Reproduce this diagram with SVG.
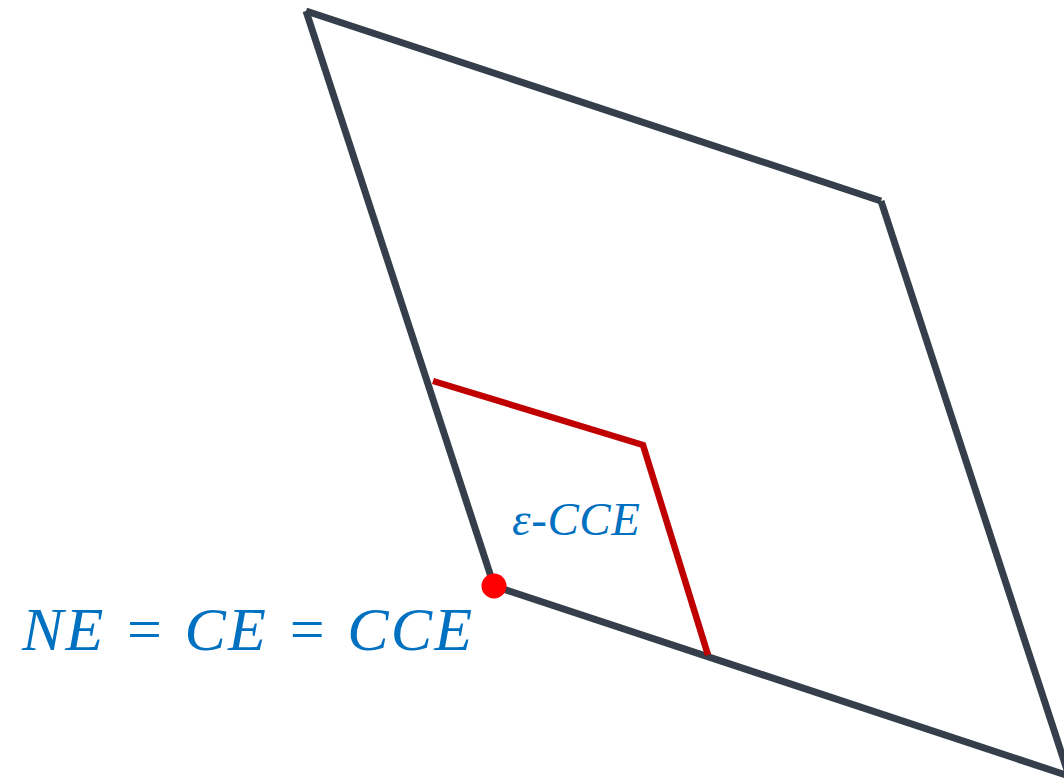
<svg xmlns="http://www.w3.org/2000/svg" width="1064" height="783" viewBox="0 0 1064 783">
<style>
.edge{stroke:#343F4B;stroke-width:7;fill:none}
.red{stroke:#C00000;stroke-width:6.5;fill:none}
.lbl{font-family:"Liberation Serif","DejaVu Serif",serif;font-style:italic;fill:#0070C0}
</style>
<rect width="1064" height="783" fill="#FFFFFF"/>
<g id="region">
<line class="edge" x1="306" y1="11" x2="881" y2="201"/>
<line class="edge" x1="881" y1="201" x2="1069" y2="776"/>
<line class="edge" x1="306" y1="11" x2="494" y2="586"/>
<line class="edge" x1="494" y1="586" x2="1069" y2="776"/>
</g>
<g id="cce-boundary">
<polyline class="red" points="433,381 643,445 708,655"/>
</g>
<g id="ne-point">
<circle cx="494" cy="586" r="12.5" fill="#FF0000"/>
</g>
<g id="labels">
<text class="lbl" x="512" y="535" font-size="47" textLength="128" lengthAdjust="spacing">ε-CCE</text>
<text class="lbl" x="22" y="650" font-size="62" textLength="450" lengthAdjust="spacing">NE = CE = CCE</text>
</g>
</svg>
